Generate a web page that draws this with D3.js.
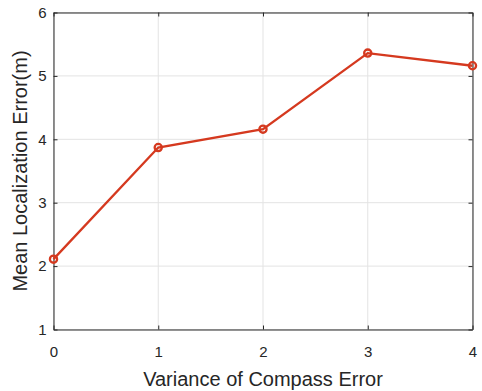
<!DOCTYPE html>
<html>
<head>
<meta charset="utf-8">
<script src="https://cdn.jsdelivr.net/npm/d3@7"></script>
<style>
  body { margin: 0; background: #fff; }
  text { font-family: "Liberation Sans", Arial, sans-serif; fill: #262626; }
</style>
</head>
<body>
<div id="chart"></div>
<script>
const xValues = [0, 1, 2, 3, 4]
const errValues = [2.11, 3.87, 4.16, 5.36, 5.16]
const xTicks = [0, 1, 2, 3, 4]
const yTicks = [1, 2, 3, 4, 5, 6]

const w = 482
const h = 391
const margin = { top: 12.5, right: 9.5, bottom: 61.5, left: 53.5 }
const width = w - margin.left - margin.right
const height = h - margin.top - margin.bottom

const svg = d3.select('#chart').append('svg')
  .attr('width', w)
  .attr('height', h)

const g = svg.append('g').attr('transform', 'translate(' + margin.left + ',' + margin.top + ')')

const x = d3.scaleLinear().domain([0, 4]).range([0, width])
const y = d3.scaleLinear().domain([1, 6]).range([height, 0])

// grid
g.selectAll('.gx').data(xTicks).enter().append('line')
  .attr('x1', d => x(d)).attr('x2', d => x(d))
  .attr('y1', 0).attr('y2', height)
  .attr('stroke', '#e3e3e3').attr('stroke-width', 1)
g.selectAll('.gy').data(yTicks).enter().append('line')
  .attr('x1', 0).attr('x2', width)
  .attr('y1', d => y(d)).attr('y2', d => y(d))
  .attr('stroke', '#e3e3e3').attr('stroke-width', 1)

// axes (ticks inward, box)
const tickLen = 4
const styleAxis = sel => {
  sel.attr('font-size', 15).attr('font-family', '"Liberation Sans", Arial, sans-serif')
  sel.select('.domain').attr('stroke', '#262626')
  sel.selectAll('.tick line').attr('stroke', '#262626')
  sel.selectAll('.tick text').attr('fill', '#262626')
}

g.append('g').attr('transform', 'translate(0,' + height + ')')
  .call(d3.axisBottom(x).tickValues(xTicks).tickFormat(d3.format('d'))
    .tickSizeInner(-tickLen).tickSizeOuter(0).tickPadding(16.5))
  .call(styleAxis)
g.append('g')
  .call(d3.axisTop(x).tickValues(xTicks).tickFormat('')
    .tickSizeInner(-tickLen).tickSizeOuter(0))
  .call(styleAxis)
g.append('g')
  .call(d3.axisLeft(y).tickValues(yTicks).tickFormat(d3.format('d'))
    .tickSizeInner(-tickLen).tickSizeOuter(0).tickPadding(7))
  .call(styleAxis)
g.append('g').attr('transform', 'translate(' + width + ',0)')
  .call(d3.axisRight(y).tickValues(yTicks).tickFormat('')
    .tickSizeInner(-tickLen).tickSizeOuter(0))
  .call(styleAxis)

// line
const data = xValues.map((d, i) => ({ x: d, y: errValues[i] }))
g.append('path').datum(data)
  .attr('fill', 'none')
  .attr('stroke', '#d5391f')
  .attr('stroke-width', 2.3)
  .attr('d', d3.line().x(d => x(d.x)).y(d => y(d.y)))

g.selectAll('.pt').data(data).enter().append('circle')
  .attr('cx', d => x(d.x)).attr('cy', d => y(d.y))
  .attr('r', 3.6)
  .attr('fill', 'none')
  .attr('stroke', '#d5391f')
  .attr('stroke-width', 2.3)

// labels
svg.append('text')
  .attr('x', margin.left + width / 2)
  .attr('y', 386)
  .attr('text-anchor', 'middle')
  .attr('font-size', 20)
  .text('Variance of Compass Error')

svg.append('text')
  .attr('transform', 'translate(27,' + (margin.top + height / 2) + ') rotate(-90)')
  .attr('text-anchor', 'middle')
  .attr('font-size', 20)
  .text('Mean Localization Error(m)')
</script>
</body>
</html>
